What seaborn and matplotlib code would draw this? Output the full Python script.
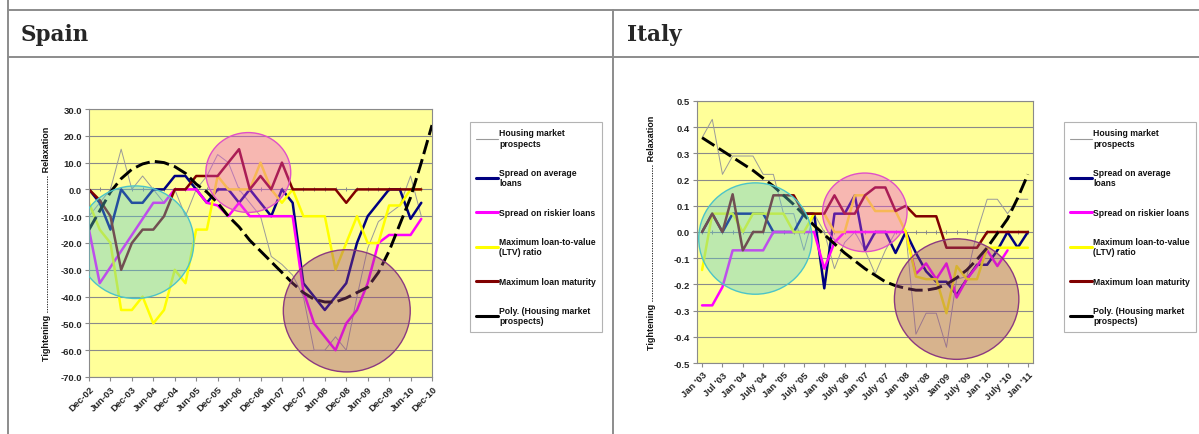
import numpy as np
import seaborn as sns
import matplotlib.pyplot as plt
from matplotlib.patches import Ellipse
from matplotlib.lines import Line2D

sns.set_theme(style="white")
plt.rcParams['font.family'] = ['Liberation Sans', 'DejaVu Sans']

nan = np.nan

# ---- Spain (quarterly, Dec-02 .. Dec-10) ----
spain_labels = ["Dec-02", "Jun-03", "Dec-03", "Jun-04", "Dec-04", "Jun-05", "Dec-05", "Jun-06",
                "Dec-06", "Jun-07", "Dec-07", "Jun-08", "Dec-08", "Jun-09", "Dec-09", "Jun-10", "Dec-10"]
spain_housing = [-10, -5, 0, 15, 0, 5, 0, -5, 0, -10, 0, 5, 13, 10, 0, -5, -10, -25, -28, -32,
                 -40, -60, -60, -55, -60, -40, -22, -12, -9, -6, 5, -10, nan]
spain_avg = [0, -5, -15, 0, -5, -5, 0, 0, 5, 5, 0, -5, 0, 0, -5, 0, -5, -10, 0, -5,
             -35, -40, -45, -40, -35, -20, -10, -5, 0, 0, -11, -5, nan]
spain_risky = [-15, -35, -29, -23, -17, -11, -5, -5, 0, 0, 0, -5, -6, -10, -5, -10, -10, -10, -10, -10,
               -38, -50, -55, -60, -50, -45, -35, -20, -17, -17, -17, -11, nan]
spain_ltv = [-5, -15, -20, -45, -45, -40, -50, -45, -30, -35, -15, -15, 5, 0, 0, 0, 10, 0, -5, 0,
             -10, -10, -10, -30, -20, -10, -20, -20, -6, -6, 0, 0, nan]
spain_maturity = [0, -4, -10, -30, -20, -15, -15, -10, 0, 0, 5, 5, 5, 10, 15, 0, 5, 0, 10, 0,
                  0, 0, 0, 0, -5, 0, 0, 0, 0, 0, 0, 0, nan]
spain_trend = [-15, -8, -1, 4, 7.5, 9.5, 10.5, 10, 8.5, 6, 2, -1, -5, -10, -14, -19, -23, -27, -31, -35,
               -38.5, -41, -42, -42, -40.5, -38.5, -36.5, -31, -23, -13, -3, 10, 24]

# ---- Italy (quarterly, Jan '03 .. Jan '11) ----
italy_labels = ["Jan '03", "Jul '03", "Jan '04", "July '04", "Jan '05", "July '05", "Jan '06", "July '06",
                "Jan '07", "July '07", "Jan '08", "July '08", "Jan'09", "July '09", "Jan '10", "July '10", "Jan '11"]
italy_housing = [0.36, 0.43, 0.22, 0.29, 0.29, 0.29, 0.22, 0.22, 0.07, 0.07, -0.07, 0.07, 0.0, -0.14, -0.04,
                 0.0, -0.07, -0.16, -0.07, 0.0, 0.0, -0.39, -0.31, -0.31, -0.44, -0.18, -0.17, 0.0,
                 0.125, 0.125, 0.07, 0.125, 0.125]
italy_avg = [0, 0.07, 0, 0.07, 0.07, 0.07, 0.07, 0, 0, 0, 0.07, 0.07, -0.215, 0.07, 0.07, 0.14, -0.07,
             0, 0, -0.08, 0, -0.08, -0.15, -0.19, -0.19, -0.24, -0.18, -0.125, -0.125, -0.07, 0, -0.06, 0]
italy_risky = [-0.28, -0.28, -0.21, -0.07, -0.07, -0.07, -0.07, 0, 0, 0, 0, 0, -0.14, -0.04, 0, 0, 0,
               0, 0, 0, 0, -0.16, -0.12, -0.18, -0.12, -0.25, -0.18, -0.13, -0.07, -0.13, -0.07, nan, nan]
italy_ltv = [-0.145, 0.07, 0.07, 0.07, 0, 0.07, 0.07, 0.07, 0.07, 0, 0, 0.07, 0.07, 0, 0, 0.14, 0.14,
             0.08, 0.08, 0.08, 0, -0.17, -0.18, -0.18, -0.31, -0.13, -0.18, -0.18, -0.06, -0.06, -0.06,
             -0.06, -0.06]
italy_maturity = [0, 0.07, 0, 0.144, -0.07, 0, 0, 0.14, 0.14, 0.14, 0.07, 0.07, 0.07, 0.14, 0.07, 0.07,
                  0.14, 0.17, 0.17, 0.08, 0.1, 0.06, 0.06, 0.06, -0.06, -0.06, -0.06, -0.06, 0, 0, 0, 0, 0]
italy_trend = [0.36, 0.335, 0.31, 0.285, 0.26, 0.235, 0.205, 0.175, 0.14, 0.105, 0.065, 0.025, -0.01,
               -0.045, -0.08, -0.11, -0.14, -0.165, -0.19, -0.205, -0.215, -0.222, -0.222, -0.215,
               -0.2, -0.175, -0.145, -0.105, -0.06, -0.005, 0.05, 0.13, 0.22]

legend_labels = ["Housing market\nprospects", "Spread on average\nloans", "Spread on riskier loans",
                 "Maximum loan-to-value\n(LTV) ratio", "Maximum loan maturity",
                 "Poly. (Housing market\nprospects)"]
colors = ["#9a9a9a", "#000080", "#ff00ff", "#ffff00", "#800000", "black"]
widths = [0.7, 1.8, 1.8, 1.8, 1.8, 2.0]
dash = (0, (5, 1.8))
GRAY = "#8a8a8a"
BG = "#ffff99"
tick_font = dict(fontsize=6.8, fontweight="bold")

W, H = 1199, 435
fig = plt.figure(figsize=(W / 100, H / 100), dpi=100)


def fx(px):
    return px / W


def fy(py):
    return 1 - py / H


def draw_chart(rect, series, trend, labels, xlim, ylim, nticks, fmt, zero_frac, circles, ylab_x, leg_xy):
    ax = fig.add_axes(rect)
    ax.set_facecolor(BG)
    q = np.arange(len(trend))
    for vals, c, lw in zip(series, colors[:5], widths[:5]):
        sns.lineplot(x=q, y=vals, ax=ax, color=c, linewidth=lw, errorbar=None, legend=False)
    sns.lineplot(x=q, y=trend, ax=ax, color="black", linewidth=2.1, linestyle=dash,
                 errorbar=None, legend=False)
    for (cx, cy, rx, ry, face, edge) in circles:
        ax.add_patch(Ellipse((cx, cy), 2 * rx, 2 * ry, facecolor=face, edgecolor=edge,
                             linewidth=1.0, zorder=6))
    ax.set_xlim(*xlim)
    ax.set_ylim(*ylim)
    yt = np.round(np.linspace(ylim[0], ylim[1], nticks), 6) + 0.0
    ax.set_yticks(yt)
    ax.set_yticklabels([fmt % (v if abs(v) > 1e-9 else 0.0) for v in yt], **tick_font)
    ax.set_xticks(q[::2])
    ax.set_xticklabels(labels, rotation=45, ha="right", rotation_mode="anchor", **tick_font)
    ax.tick_params(axis="both", length=3, width=0.8, color=GRAY, pad=2, direction="out")
    ax.tick_params(axis="y", left=True)
    ax.tick_params(axis="x", bottom=True)
    ax.yaxis.grid(True, color=GRAY, linewidth=0.8)
    ax.set_axisbelow(True)
    for s in ax.spines.values():
        s.set_color(GRAY)
        s.set_linewidth(0.8)
    ax.set_xlabel("")
    ax.set_ylabel("")
    sec = ax.secondary_xaxis(zero_frac)
    sec.set_xticks(q)
    sec.tick_params(length=3, width=0.7, color=GRAY, direction="inout", labeltop=False,
                    labelbottom=False)
    for s in sec.spines.values():
        s.set_visible(False)
    fig.text(ylab_x, rect[1] + rect[3] / 2, "Tightening " + "." * 55 + " Relaxation",
             rotation=90, ha="center", va="center", fontsize=6.5, fontweight="bold", color="#111111")
    handles = [Line2D([], [], color=c, linewidth=(0.8 if i == 0 else 2.2)) for i, c in enumerate(colors)]
    leg = fig.legend(handles, legend_labels, loc="upper left", bbox_to_anchor=leg_xy,
                     bbox_transform=fig.transFigure, borderaxespad=0, frameon=True, fancybox=False,
                     prop=dict(size=6.2, weight="bold"), handlelength=2.5, handletextpad=0.15,
                     labelspacing=2.35, borderpad=0.75)
    leg.get_frame().set_edgecolor("#a0a0a0")
    leg.get_frame().set_linewidth(0.8)
    for t in leg.get_texts():
        t.set_color("#111111")
    return ax


green = ("#5cc8cf66", "#4cc4c8")
pink = ("#eb4bd766", "#e050c8")
brown = ("#9d437d66", "#8b3a80")

spain_rect = [fx(89), fy(378), fx(432) - fx(89), fy(110) - fy(378)]
draw_chart(spain_rect, [spain_housing, spain_avg, spain_risky, spain_ltv, spain_maturity], spain_trend,
           spain_labels, (0, 32), (-70, 30), 11, "%.1f", 0.7,
           [(4.33, -19.7, 5.45, 21.0) + green, (14.86, 6.3, 3.96, 14.9) + pink,
            (24.05, -45.3, 5.92, 22.8) + brown],
           fx(47), (fx(470), fy(123)))

italy_rect = [fx(697), fy(364), fx(1033) - fx(697), fy(102) - fy(364)]
draw_chart(italy_rect, [italy_housing, italy_avg, italy_risky, italy_ltv, italy_maturity], italy_trend,
           italy_labels, (-0.5, 32.5), (-0.5, 0.5), 11, "%.1f", 0.5,
           [(5.23, -0.025, 5.56, 0.2125) + green, (15.98, 0.075, 4.15, 0.15) + pink,
            (25.0, -0.256, 6.11, 0.23) + brown],
           fx(652), (fx(1064), fy(123)))

# table borders and headers
border = dict(color="#8c8c8c", linewidth=1.4, transform=fig.transFigure)
fig.add_artist(Line2D([fx(8), 1], [fy(11), fy(11)], **border))
fig.add_artist(Line2D([fx(8), 1], [fy(58), fy(58)], **border))
fig.add_artist(Line2D([fx(8), fx(8)], [0, 1], **border))
fig.add_artist(Line2D([fx(613), fx(613)], [0, fy(11)], **border))
fig.text(fx(21), fy(35), "Spain", ha="left", va="center", fontsize=15.5, fontweight="bold",
         family="DejaVu Serif")
fig.text(fx(627), fy(35), "Italy", ha="left", va="center", fontsize=15.5, fontweight="bold",
         family="DejaVu Serif")

fig.savefig("out.png", dpi=100, facecolor="white")
